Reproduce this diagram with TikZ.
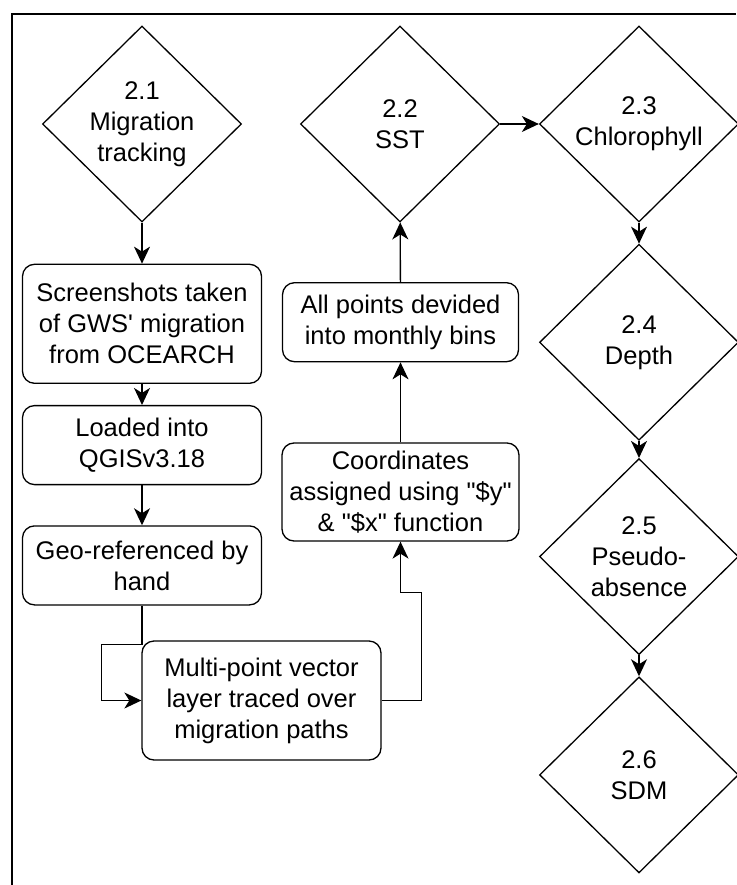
\documentclass[tikz,border=0pt]{standalone}
\usepackage{fontspec}
\setmainfont{Liberation Sans}
\usetikzlibrary{arrows.meta,positioning,shapes.geometric}

\tikzset{
  stage/.style={draw, diamond, line width=1.3pt, minimum width=199pt, minimum height=196pt, inner sep=0pt, align=center},
  stepbox/.style={draw, rounded corners=12pt, line width=1.3pt, minimum width=239pt, align=center},
  arr/.style={line width=1.3pt, -{Stealth[length=17pt, width=16pt, inset=5pt]}},
}

\begin{document}
\begin{tikzpicture}[x=1pt, y=-1pt, font=\fontsize{25.5}{31}\selectfont]
  \useasboundingbox (0,0) rectangle (736,885);
  % frame
  \draw[line width=2pt] (12,885) -- (12,14) -- (736,14);

  % stages
  \node[stage] (d21) at (142,124) {2.1\\Migration\\tracking};
  \node[stage] (d22) at (400,124) {2.2\\SST};
  \node[stage] (d23) at (639,124) {2.3\\Chlorophyll};
  \node[stage, below=21pt of d23] (d24) {2.4\\Depth};
  \node[stage, below=17pt of d24] (d25) {2.5\\Pseudo-\\absence};
  \node[stage, below=21pt of d25] (d26) {2.6\\SDM};

  % migration tracking steps
  \node[stepbox, minimum height=119pt, below=41pt of d21] (shots) {Screenshots taken\\of GWS\textquotesingle{} migration\\from OCEARCH};
  \node[stepbox, minimum height=79pt, below=21pt of shots] (qgis) {Loaded into\\QGISv3.18};
  \node[stepbox, minimum height=79pt, below=40pt of qgis] (geo) {Geo-referenced by\\hand};
  \node[stepbox, minimum height=119pt] (trace) at (261.5,700.5) {Multi-point vector\\layer traced over\\migration paths};
  \node[stepbox, minimum width=237pt, minimum height=98pt] (coords) at (400.5,492) {Coordinates\\assigned using \textquotedbl\$y\textquotedbl\\\& \textquotedbl\$x\textquotedbl{} function};
  \node[stepbox, minimum width=236pt, minimum height=79pt, above=80pt of coords] (bins) {All points devided\\into monthly bins};

  \draw[arr] (d21) -- (shots);
  \draw[arr] (shots) -- (qgis);
  \draw[arr] (qgis) -- (geo);
  \draw[arr] (geo.south) -- ++(0,39) -| ([xshift=-40pt]trace.west) -- (trace.west);
  \draw[arr] (trace.east) -- ++(40,0) -- ++(0,-108) -| (coords.south);
  \draw[arr] (coords) -- (bins);
  \draw[arr] (bins) -- (d22);
  \draw[arr] (d22) -- (d23);
  \draw[arr] (d23) -- (d24);
  \draw[arr] (d24) -- (d25);
  \draw[arr] (d25) -- (d26);
\end{tikzpicture}
\end{document}
